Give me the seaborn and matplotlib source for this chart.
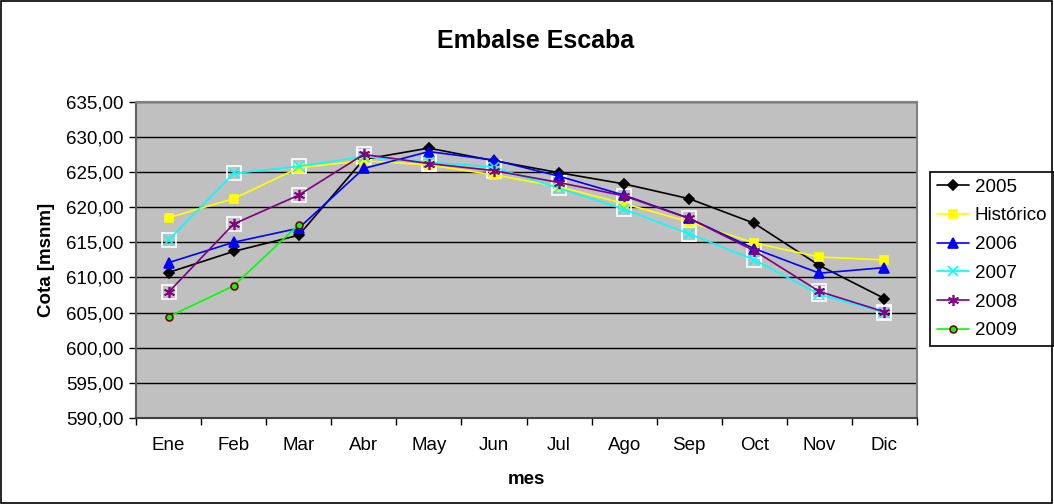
import numpy as np
import pandas as pd
import matplotlib
matplotlib.use("Agg")
import matplotlib.pyplot as plt
import seaborn as sns
from matplotlib.ticker import FuncFormatter, MultipleLocator, FixedLocator
from matplotlib.patches import Rectangle

meses = ["Ene", "Feb", "Mar", "Abr", "May", "Jun", "Jul", "Ago", "Sep", "Oct", "Nov", "Dic"]

cota_2005 = [610.7, 613.7, 616.0, 626.8, 628.4, 626.6, 624.9, 623.3, 621.2, 617.7, 611.7, 607.0]
cota_hist = [618.5, 621.2, 625.6, 626.6, 626.0, 624.6, 622.9, 620.5, 617.9, 614.9, 612.9, 612.5]
cota_2006 = [612.1, 615.0, 617.0, 625.5, 627.9, 626.7, 624.4, 621.7, 618.4, 614.1, 610.6, 611.4]
cota_2007 = [615.3, 624.8, 625.8, 627.2, 626.4, 625.7, 622.7, 619.7, 616.2, 612.5, 607.6, 605.0]
cota_2008 = [607.9, 617.6, 621.7, 627.5, 626.2, 625.2, 623.5, 621.6, 618.4, 613.8, 608.0, 605.1]
cota_2009 = [604.4, 608.8, 617.5] + [np.nan] * 9

series = ["2005", "Histórico", "2006", "2007", "2008", "2009"]
valores = [cota_2005, cota_hist, cota_2006, cota_2007, cota_2008, cota_2009]

# estilo de cada serie (tipo Excel)
estilos = {
    "2005": dict(color="black", marker="D", ms=5, mfc="black", mec="black"),
    "Histórico": dict(color="#FFFF00", marker="s", ms=6, mfc="#FFFF00", mec="#FFFF00"),
    "2006": dict(color="#0000FF", marker="^", ms=7, mfc="#0000FF", mec="#0000FF"),
    "2007": dict(color="#00FFFF", marker="x", ms=7, mfc="#00FFFF", mec="#00FFFF"),
    "2008": dict(color="#800080", marker=(6, 2, 0), ms=8, mfc="#800080", mec="#800080"),
    "2009": dict(color="#00FF00", marker="o", ms=5, mfc="#00FF00", mec="#800000"),
}

df = pd.DataFrame({"mes": meses})
for s, v in zip(series, valores):
    df[s] = v
df_long = df.melt(id_vars="mes", var_name="serie", value_name="cota")
df_long["mes"] = pd.Categorical(df_long["mes"], categories=meses, ordered=True)

sns.set_style("white")
plt.rcParams["font.family"] = ["Liberation Sans", "DejaVu Sans"]
for k in ["text.color", "axes.labelcolor", "xtick.color", "ytick.color"]:
    plt.rcParams[k] = "black"

fig = plt.figure(figsize=(10.54, 5.04), dpi=100)
ax = fig.add_axes([136 / 1054, 1 - 418 / 504, (917 - 136) / 1054, (418 - 101.7) / 504])
ax.set_facecolor("#C0C0C0")

for s in series:
    sub = df_long[df_long["serie"] == s].dropna()
    x = sub["mes"].cat.codes
    st = estilos[s]
    # marco blanco detras de los marcadores x / asterisco
    if s in ("2007", "2008"):
        ax.plot(x, sub["cota"], ls="none", marker="s", ms=10, mfc="none",
                mec="white", mew=1.2, zorder=2)
    sns.lineplot(x=x, y=sub["cota"].values, ax=ax, label=s, color=st["color"],
                 marker=st["marker"], markersize=st["ms"], markerfacecolor=st["mfc"],
                 markeredgecolor=st["mec"], markeredgewidth=1.2, linewidth=1.2,
                 sort=False, zorder=3)

ax.set_xlim(-0.5, 11.5)
ax.set_ylim(590, 635)
ax.yaxis.set_major_locator(MultipleLocator(5))
ax.yaxis.set_major_formatter(FuncFormatter(lambda v, p: f"{v:.2f}".replace(".", ",")))
ax.xaxis.set_major_locator(FixedLocator(range(12)))
ax.set_xticklabels(meses)
ax.xaxis.set_minor_locator(FixedLocator(np.arange(-0.5, 12, 1)))
ax.tick_params(axis="x", which="major", length=0, pad=14, labelsize=13.5)
ax.tick_params(axis="x", which="minor", length=5, width=1, color="black", direction="out", bottom=True)
ax.tick_params(axis="y", which="major", length=5, width=1, color="black", direction="out",
               left=True, labelsize=13.5, pad=4)

ax.grid(True, axis="y", color="black", linewidth=1)
ax.set_axisbelow(True)
for side in ["top", "right"]:
    ax.spines[side].set_color("#808080")
    ax.spines[side].set_linewidth(1.5)
ax.spines["left"].set_color("#606060")
ax.spines["left"].set_linewidth(1.5)
ax.spines["bottom"].set_color("#404040")
ax.spines["bottom"].set_linewidth(1.5)

ax.set_xlabel("mes", fontsize=13.5, fontweight="bold", labelpad=12)
ax.set_ylabel("Cota [msnm]", fontsize=13.5, fontweight="bold", labelpad=8)
fig.text(535.5 / 1054, 1 - 40.7 / 504, "Embalse Escaba", fontsize=18,
         fontweight="bold", ha="center", va="center")

leg = ax.legend(loc="upper left", bbox_to_anchor=(930 / 1054, 1 - 172 / 504),
                bbox_transform=fig.transFigure, borderaxespad=0, fontsize=13.5,
                frameon=True, fancybox=False, edgecolor="black", framealpha=1,
                handlelength=1.75, handletextpad=0.3, labelspacing=0.62, borderpad=0.35)
leg.get_frame().set_linewidth(1.2)

fig.patches.append(Rectangle((0.001, 0.002), 0.997, 0.996, transform=fig.transFigure,
                             fill=False, edgecolor="black", linewidth=1.2))

fig.savefig("out.png", dpi=100)
